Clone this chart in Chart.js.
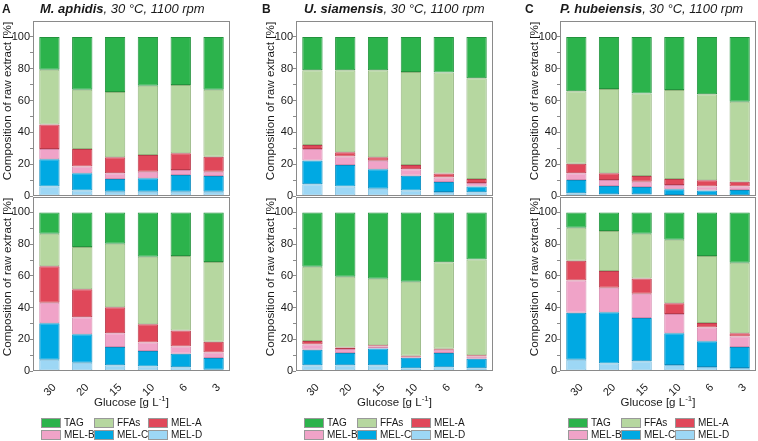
<!DOCTYPE html>
<html><head><meta charset="utf-8">
<script src="https://cdn.jsdelivr.net/npm/chart.js@4"></script>
<style>
body{margin:0;background:#fff;}
#wrap{position:relative;width:758px;height:441px;overflow:hidden;font-family:"Liberation Sans",Arial,sans-serif;color:#1a1a1a;}
canvas{position:absolute;}
.ttl{position:absolute;font-size:13px;white-space:nowrap;font-style:italic;top:1px;line-height:15px;}
.lab{position:absolute;font-size:12px;font-weight:bold;top:2px;line-height:14px;}
.xt{position:absolute;font-size:11.5px;white-space:nowrap;transform:translateX(-50%);top:396px;line-height:13px;}
.xt sup{font-size:8px;line-height:0;}
.yt{position:absolute;font-size:11.7px;white-space:nowrap;line-height:13px;transform:translate(-50%,-50%) rotate(-90deg);}
.lg{position:absolute;font-size:10px;white-space:nowrap;line-height:10px;}
.sw{position:absolute;width:20px;height:10px;border:1px solid #999;box-sizing:border-box;}
</style></head>
<body><div id="wrap"></div>
<script>
// ---- data ----
const categories = ['30','20','15','10','6','3'];
const seriesNames = ['TAG','FFAs','MEL-A','MEL-B','MEL-C','MEL-D'];
const seriesColors = ['#2cb34c','#b6d7a0','#e0485a','#f0a3c8','#00a9e3','#9dd7f5'];
const seriesBorders = ['#23933d','#94b57f','#b93a4b','#d68aae','#0b8cbf','#7fbddc'];
const yTicks = [0,10,20,30,40,50,60,70,80,90,100];
const yTitle = 'Composition of raw extract [%]';

// M. aphidis
const aphidisTop = {
  'MEL-D':[5.9,3.4,2.7,2.7,2.7,2.7],
  'MEL-C':[17.2,10.9,8.0,8.4,10.5,9.9],
  'MEL-B':[6.5,4.2,3.6,4.2,3.2,2.7],
  'MEL-A':[15.4,11.1,10.1,10.5,10.5,9.3],
  'FFAs':[34.4,37.2,40.9,43.5,42.8,42.2],
  'TAG':[20.6,33.2,34.7,30.7,30.3,33.2]
};
const aphidisBottom = {
  'MEL-D':[7.1,5.2,3.6,2.9,2.3,0.8],
  'MEL-C':[23.0,18.0,11.5,9.7,8.6,7.4],
  'MEL-B':[13.0,10.7,8.7,5.4,4.6,3.5],
  'MEL-A':[23.0,17.6,16.4,11.5,10.0,6.7],
  'FFAs':[20.5,26.7,40.1,42.5,47.1,50.4],
  'TAG':[13.4,21.8,19.7,28.0,27.4,31.2]
};
// U. siamensis
const siamensisTop = {
  'MEL-D':[7.4,5.9,4.6,3.4,2.5,2.3],
  'MEL-C':[14.9,13.6,12.2,9.4,6.3,3.6],
  'MEL-B':[7.3,5.3,5.3,4.0,2.8,2.3],
  'MEL-A':[2.5,2.7,2.3,2.7,2.5,2.5],
  'FFAs':[46.9,51.5,54.6,58.4,63.6,63.3],
  'TAG':[21.0,21.0,21.0,22.1,22.3,26.0]
};
const siamensisBottom = {
  'MEL-D':[3.6,3.6,3.6,1.7,2.3,1.7],
  'MEL-C':[9.8,7.7,10.6,6.7,9.0,6.0],
  'MEL-B':[3.3,2.5,1.3,0.6,2.1,1.5],
  'MEL-A':[2.3,1.1,0.8,0.6,0.6,0.8],
  'FFAs':[46.7,44.5,41.9,46.7,54.6,60.3],
  'TAG':[34.3,40.6,41.8,43.7,31.4,29.7]
};
// P. hubeiensis
const hubeiensisTop = {
  'MEL-D':[1.7,1.1,1.1,0.6,0.4,0.4],
  'MEL-C':[8.4,5.2,4.6,3.6,3.0,3.4],
  'MEL-B':[4.2,3.8,3.3,2.7,2.5,2.1],
  'MEL-A':[5.9,4.2,3.6,3.8,4.0,3.1],
  'FFAs':[45.6,52.9,51.9,55.9,54.0,50.2],
  'TAG':[34.2,32.8,35.5,33.4,36.1,40.8]
};
const hubeiensisBottom = {
  'MEL-D':[7.1,4.8,6.1,3.8,2.5,1.9],
  'MEL-C':[29.7,32.2,27.4,20.0,16.3,13.2],
  'MEL-B':[20.3,15.5,15.2,12.2,8.6,6.7],
  'MEL-A':[12.4,10.5,9.7,6.7,2.9,2.0],
  'FFAs':[20.9,25.3,28.2,40.1,42.3,44.4],
  'TAG':[9.6,11.7,13.4,17.2,27.4,31.8]
};

// ---- layout ----
const panels = [
  {L:33, R:230, letter:'A', lx:2, tx:40, species:'M. aphidis', top:aphidisTop, bottom:aphidisBottom},
  {L:296, R:493, letter:'B', lx:262, tx:304, species:'U. siamensis', top:siamensisTop, bottom:siamensisBottom},
  {L:560, R:756, letter:'C', lx:525, tx:560, species:'P. hubeiensis', top:hubeiensisTop, bottom:hubeiensisBottom}
];
const FONT = '"Liberation Sans", Arial, sans-serif';
Chart.defaults.font.family = FONT;
Chart.defaults.font.size = 11;
Chart.defaults.color = '#1a1a1a';

const framePlugin = {
  id:'frame',
  afterDraw(chart){
    const {ctx, chartArea:{left,top,right,bottom}} = chart;
    ctx.save();
    ctx.strokeStyle = '#8a8a8a';
    ctx.lineWidth = 1;
    ctx.strokeRect(Math.round(left)+0.5, Math.round(top)+0.5, Math.round(right-left)-1, Math.round(bottom-top)-1);
    ctx.restore();
  }
};

const wrap = document.getElementById('wrap');
const order = ['MEL-D','MEL-C','MEL-B','MEL-A','FFAs','TAG'];

function makeChart(p, data, isBottom){
  const c = document.createElement('canvas');
  const w = p.R - p.L + 33 + 2;
  const h = isBottom ? 221 : 210;
  c.width = w; c.height = h;
  c.style.left = (p.L - 33) + 'px';
  c.style.top = (isBottom ? 190 : 0) + 'px';
  c.style.width = w + 'px'; c.style.height = h + 'px';
  wrap.appendChild(c);
  const datasets = order.map(name => {
    const i = seriesNames.indexOf(name);
    return {label:name, data:data[name], backgroundColor:seriesColors[i], borderColor:seriesBorders[i],
      borderWidth:1, borderSkipped:false, barPercentage:0.62, categoryPercentage:1};
  });
  const xScale = {
    stacked:true, display:isBottom,
    grid:{display:false},
    border:{display:false},
    ticks:{minRotation:45, maxRotation:45, padding:2, labelOffset:5, font:{size:11}}
  };
  if (isBottom) xScale.afterFit = (s) => { s.height = 40; };
  new Chart(c, {
    type:'bar',
    data:{labels:categories, datasets},
    plugins:[framePlugin],
    options:{
      responsive:false, animation:false, devicePixelRatio:1,
      layout:{padding:{left:0, right:2, top:isBottom?6:21, bottom:isBottom?0:14}},
      plugins:{legend:{display:false}, tooltip:{enabled:false}},
      scales:{
        x:xScale,
        y:{
          stacked:true, min:0, max:110,
          afterBuildTicks(s){ s.ticks = yTicks.map(v => ({value:v})); },
          afterFit(s){ s.width = 33; },
          grid:{drawOnChartArea:false, drawTicks:true, tickLength:3, color:'#8a8a8a'},
          border:{display:false},
          ticks:{autoSkip:false, padding:0, font:{size:11},
            callback:(v)=> (v % 20 === 0 ? String(v) : '')},
          title:{display:false}
        }
      }
    }
  });
}

panels.forEach(p => {
  makeChart(p, p.top, false);
  makeChart(p, p.bottom, true);
  [101, 277].forEach(cy => {
    const yt = document.createElement('div');
    yt.className = 'yt'; yt.style.left = (p.L - 27) + 'px'; yt.style.top = cy + 'px';
    yt.textContent = yTitle;
    wrap.appendChild(yt);
  });
  const lab = document.createElement('div');
  lab.className = 'lab'; lab.style.left = p.lx + 'px'; lab.textContent = p.letter;
  wrap.appendChild(lab);
  const t = document.createElement('div');
  t.className = 'ttl'; t.style.left = p.tx + 'px';
  t.innerHTML = '<b>' + p.species + '</b>, 30 °C, 1100 rpm';
  wrap.appendChild(t);
  const xt = document.createElement('div');
  xt.className = 'xt'; xt.style.left = ((p.L + p.R)/2) + 'px';
  xt.innerHTML = 'Glucose [g L<sup>-1</sup>]';
  wrap.appendChild(xt);
  const colX = [8, 61, 115];
  seriesNames.forEach((name, i) => {
    const col = i % 3, row = Math.floor(i/3);
    const x = p.L + colX[col], y = 418 + row*12;
    const sw = document.createElement('div');
    sw.className = 'sw'; sw.style.left = x + 'px'; sw.style.top = y + 'px';
    sw.style.background = seriesColors[i];
    wrap.appendChild(sw);
    const tx = document.createElement('div');
    tx.className = 'lg'; tx.style.left = (x + 23) + 'px'; tx.style.top = y + 'px';
    tx.textContent = name;
    wrap.appendChild(tx);
  });
});
</script>
</body></html>
